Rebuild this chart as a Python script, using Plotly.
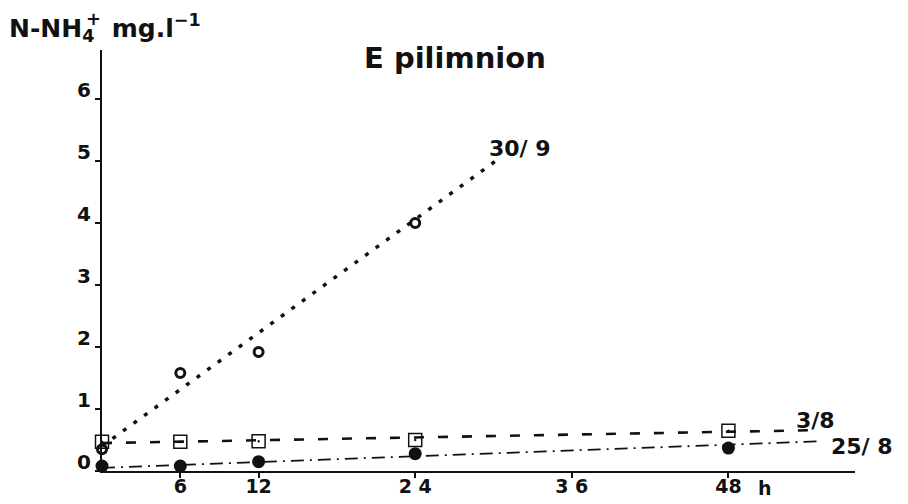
import plotly.graph_objects as go

# Incubation time (h) and ammonium concentration (mg N/l) per sampling date
hours = [0, 6, 12, 24, 48]
nh4_30_9 = [0.35, 1.58, 1.92, 4.0]
hours_30_9 = [0, 6, 12, 24]
nh4_3_8 = [0.47, 0.47, 0.48, 0.5, 0.65]
nh4_25_8 = [0.08, 0.08, 0.15, 0.28, 0.37]

# Fitted trend lines (start/end)
trend_30_9_x = [0, 30.5]
trend_30_9_y = [0.4, 5.05]
trend_3_8_x = [0, 55.1]
trend_3_8_y = [0.45, 0.66]
trend_25_8_x = [0, 55.2]
trend_25_8_y = [0.05, 0.48]

x_ticks = [6, 12, 24, 36, 48]
x_ticktext = ["6", "12", "2 4", "3 6", "48"]
y_ticks = [0, 1, 2, 3, 4, 5, 6]

FONT = "DejaVu Sans"
INK = "#111111"

fig = go.Figure()

# trend lines
fig.add_trace(go.Scatter(x=trend_30_9_x, y=trend_30_9_y, mode="lines",
                         line=dict(color=INK, width=3.5, dash="4px,9px"), cliponaxis=False))
fig.add_trace(go.Scatter(x=trend_3_8_x, y=trend_3_8_y, mode="lines",
                         line=dict(color=INK, width=2.6, dash="10px,14px"), cliponaxis=False))
fig.add_trace(go.Scatter(x=trend_25_8_x, y=trend_25_8_y, mode="lines",
                         line=dict(color=INK, width=1.8, dash="13px,6px,2px,6px"),
                         cliponaxis=False))

# measured points
fig.add_trace(go.Scatter(x=hours, y=nh4_3_8, mode="markers", cliponaxis=False,
                         marker=dict(symbol="square-open-dot", size=13, color=INK,
                                     line=dict(color=INK, width=1.5))))
fig.add_trace(go.Scatter(x=hours, y=nh4_25_8, mode="markers", cliponaxis=False,
                         marker=dict(symbol="circle", size=13, color=INK)))
fig.add_trace(go.Scatter(x=hours_30_9, y=nh4_30_9, mode="markers", cliponaxis=False,
                         marker=dict(symbol="circle-open", size=9, color=INK,
                                     line=dict(color=INK, width=3))))

font_bold = dict(family=FONT, color=INK, weight="bold")

# plot area spans 753 x 421 px; paper positions below are fractions of it
annotations = [
    dict(x=0.469, y=0.981, text="E pilimnion", font=dict(size=29, **font_bold)),
    dict(x=-0.126, y=1.052, xanchor="left",
         text="N-NH<sub>4</sub>&nbsp; mg.l<sup>\u22121</sup>",
         font=dict(size=25, **font_bold)),
    dict(x=-0.011, y=1.075, text="+", font=dict(size=18, **font_bold)),
    dict(x=0.555, y=0.767, text="30/ 9", font=dict(size=22, **font_bold)),
    dict(x=0.948, y=0.121, text="3/8", font=dict(size=22, **font_bold)),
    dict(x=1.009, y=0.059, text="25/ 8", font=dict(size=22, **font_bold)),
    dict(x=0.881, y=0, yanchor="top", yshift=-4, text="h", font=dict(size=19, **font_bold)),
]
for a in annotations:
    a.setdefault("xanchor", "center")
    a.setdefault("yanchor", "middle")
    a.update(xref="paper", yref="paper", showarrow=False)

fig.update_layout(
    width=908, height=504,
    margin=dict(l=102, r=53, t=50, b=33, autoexpand=False),
    paper_bgcolor="white", plot_bgcolor="white",
    showlegend=False,
    annotations=annotations,
    xaxis=dict(range=[0, 57.7], showgrid=False, zeroline=False, automargin=False,
               showline=True, linecolor=INK, linewidth=2,
               ticks="outside", ticklen=5, tickwidth=2, tickcolor=INK,
               tickvals=x_ticks, ticktext=x_ticktext,
               ticklabelstandoff=-8,
               tickfont=dict(size=19, **font_bold)),
    yaxis=dict(range=[0, 6.79], showgrid=False, zeroline=False, automargin=False,
               showline=True, linecolor=INK, linewidth=2,
               ticks="outside", ticklen=5, tickwidth=2, tickcolor=INK,
               tickvals=y_ticks, ticktext=[str(v) for v in y_ticks],
               ticklabelshift=-9,
               tickfont=dict(size=20, **font_bold)),
)

fig.write_html("out.html")
